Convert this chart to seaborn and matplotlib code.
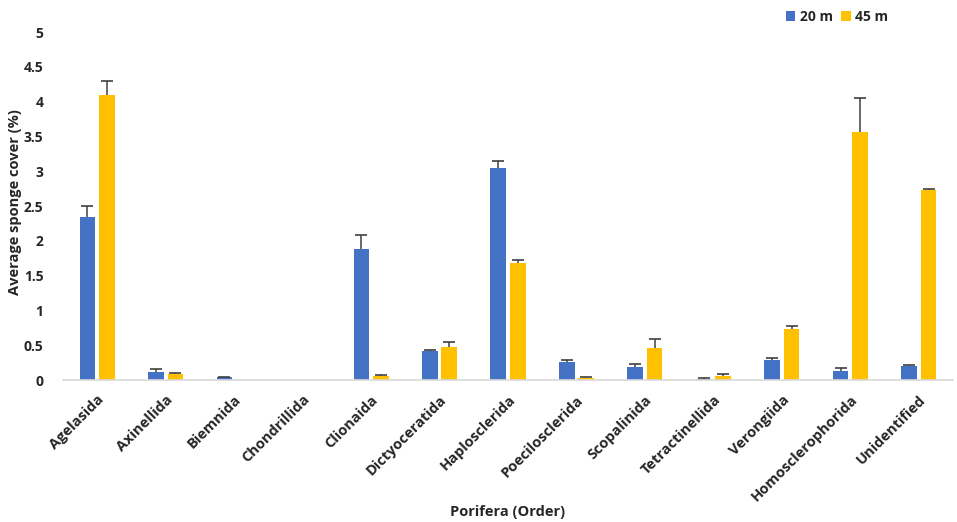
import numpy as np
import pandas as pd
import seaborn as sns
import matplotlib.pyplot as plt

# orders of Porifera and mean cover (%) at the two depths
orders = ['Agelasida', 'Axinellida', 'Biemnida', 'Chondrillida', 'Clionaida',
          'Dictyoceratida', 'Haplosclerida', 'Poecilosclerida', 'Scopalinida',
          'Tetractinellida', 'Verongiida', 'Homosclerophorida', 'Unidentified']
depths = ['20 m', '45 m']
cover_20 = [2.34, 0.12, 0.05, 0.0, 1.88, 0.41, 3.04, 0.26, 0.18, 0.02, 0.29, 0.13, 0.20]
cover_45 = [4.09, 0.086, 0.0, 0.0, 0.06, 0.48, 1.685, 0.03, 0.455, 0.06, 0.73, 3.56, 2.73]
# upper error (standard error) for each bar
err_20 = [0.16, 0.04, 0.0, 0.0, 0.21, 0.025, 0.11, 0.03, 0.05, 0.005, 0.03, 0.04, 0.01]
err_45 = [0.21, 0.014, 0.0, 0.0, 0.01, 0.07, 0.045, 0.01, 0.135, 0.03, 0.04, 0.49, 0.01]

df = pd.DataFrame({
    'Order': orders * 2,
    'Depth': [depths[0]] * len(orders) + [depths[1]] * len(orders),
    'Cover': cover_20 + cover_45,
})

sns.set_style('white')
plt.rcParams['font.family'] = ['Open Sans', 'DejaVu Sans']
plt.rcParams['font.weight'] = 'bold'

fig = plt.figure(figsize=(9.57, 5.22), dpi=100)
ax = fig.add_axes([63 / 957, 1 - 380 / 522, 890 / 957, 348 / 522])

sns.barplot(data=df, x='Order', y='Cover', hue='Depth', order=orders, hue_order=depths,
            palette=['#4472C4', '#FFC000'], saturation=1, width=0.57, gap=0.2,
            errorbar=None, linewidth=0, ax=ax)

# upper-only error bars (stem + top cap) on the seaborn bars
for cont, errs in zip(ax.containers, [err_20, err_45]):
    for p, e in zip(cont.patches, errs):
        h = p.get_height()
        if h <= 0:
            continue
        xc = p.get_x() + p.get_width() / 2
        ax.plot([xc, xc], [h, h + e], color='#404040', lw=1.1, solid_capstyle='butt')
        ax.plot([xc], [h + e], marker='_', ms=8, mew=1.2, color='#404040')

ax.set_xlim(-0.5, len(orders) - 0.5)
ax.set_ylim(0, 5)
ax.set_yticks(np.arange(0, 5.01, 0.5))
ax.set_yticklabels(['0', '0.5', '1', '1.5', '2', '2.5', '3', '3.5', '4', '4.5', '5'])
ax.tick_params(axis='y', length=0, pad=14, labelsize=10)
ax.tick_params(axis='x', length=0, pad=9, labelsize=10.5)
plt.setp(ax.get_xticklabels(), rotation=45, ha='right', rotation_mode='anchor')

for s in ['top', 'right', 'left']:
    ax.spines[s].set_visible(False)
ax.spines['bottom'].set_color('#d9d9d9')
ax.spines['bottom'].set_linewidth(1.2)

ax.set_xlabel('Porifera (Order)', fontsize=10.5, fontweight='bold')
ax.xaxis.set_label_coords(0.5, -0.36)
ax.set_ylabel('Average sponge cover (%)', fontsize=10.5, fontweight='bold')
ax.yaxis.set_label_coords(-0.046, 0.51)

ax.legend(loc='upper left', bbox_to_anchor=(776 / 957, 1.0), bbox_transform=fig.transFigure,
          ncol=2, frameon=False, fontsize=10, handlelength=0.7, handleheight=0.7,
          handletextpad=0.3, columnspacing=0.6, borderaxespad=0.3)

fig.savefig('out.png', dpi=100)
